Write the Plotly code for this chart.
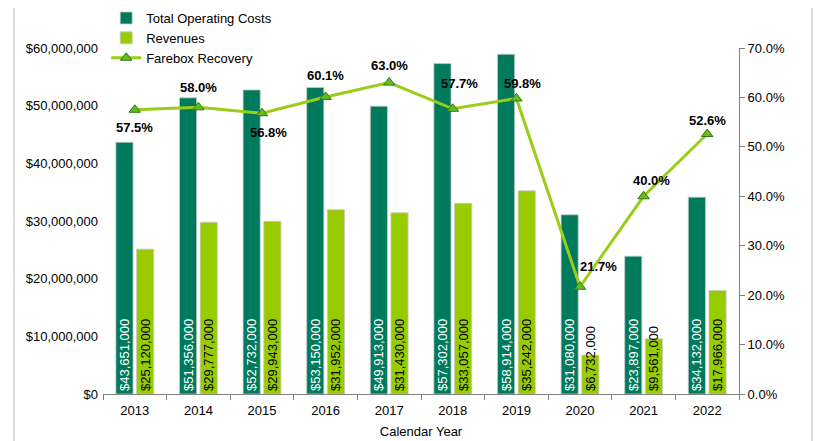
import plotly.graph_objects as go

years = ["2013", "2014", "2015", "2016", "2017", "2018", "2019", "2020", "2021", "2022"]
operating_costs = [43651000, 51356000, 52732000, 53150000, 49913000, 57302000, 58914000, 31080000, 23897000, 34132000]
revenues = [25120000, 29777000, 29943000, 31952000, 31430000, 33057000, 35242000, 6732000, 9561000, 17966000]
farebox = [0.575, 0.580, 0.568, 0.601, 0.630, 0.577, 0.598, 0.217, 0.400, 0.526]

# label placement offsets in pixels (style, not data)
label_dx = [0, 0, 6, 0, 0, 7, 6, 18, 8, 0]
label_dy = [-18, 20, -19, 21, 17, 25, 15, 20, 16, 14]

FONT = "Arial, Liberation Sans, sans-serif"
DARK = "#007A5C"
LIGHT = "#99CC00"

fig = go.Figure()
fig.add_trace(go.Bar(
    x=years, y=operating_costs, name="Total Operating Costs",
    marker=dict(color=DARK, line=dict(color="#C8C8C8", width=0.8)),
    text=[f"${v:,.0f}" for v in operating_costs],
    textposition="inside", insidetextanchor="start", textangle=-90,
    constraintext="none",
    insidetextfont=dict(color="white", size=13, family=FONT),
    hoverinfo="skip",
))
fig.add_trace(go.Bar(
    x=years, y=revenues, name="Revenues",
    marker=dict(color=LIGHT, line=dict(color="#C8C8C8", width=0.8)),
    text=[f"${v:,.0f}" for v in revenues],
    textposition="inside", insidetextanchor="start", textangle=-90,
    constraintext="none",
    insidetextfont=dict(color="black", size=13, family=FONT),
    hoverinfo="skip",
))
fig.add_trace(go.Scatter(
    x=years, y=farebox, name="Farebox Recovery", yaxis="y2",
    mode="lines+markers",
    line=dict(color="#9ACD1A", width=3),
    marker=dict(symbol="triangle-up", size=10, color="#66BB22",
                line=dict(color="#2E7A10", width=1)),
    hoverinfo="skip",
))

for i, (v, dx, dy) in enumerate(zip(farebox, label_dx, label_dy)):
    fig.add_annotation(
        x=i, y=v, xref="x", yref="y2", text=f"{v*100:.1f}%", showarrow=False,
        xshift=dx, yshift=dy,
        font=dict(family=FONT, size=13, color="black", weight="bold"),
    )

# outer frame
fig.add_shape(type="rect", xref="paper", yref="paper",
              x0=-0.14, x1=1.115, y0=-0.3, y1=1.118,
              line=dict(color="#D0D0D0", width=1.5), layer="below")

fig.update_layout(
    width=821, height=441,
    margin=dict(l=95, r=90, t=40, b=55, autoexpand=False),
    paper_bgcolor="white", plot_bgcolor="white",
    font=dict(family=FONT, size=13, color="black"),
    barmode="group", bargap=0.35, bargroupgap=0.17,
    showlegend=True,
    legend=dict(x=0.005, y=1.13, xanchor="left", yanchor="top",
                bgcolor="rgba(0,0,0,0)", font=dict(size=13),
                tracegroupgap=0, itemwidth=30),
    xaxis=dict(
        type="category", categoryorder="array", categoryarray=years,
        range=[-0.5, len(years) - 0.5], autorange=False,
        title=dict(text="Calendar Year", standoff=10, font=dict(size=13)),
        showline=True, linecolor="#808080", linewidth=1,
        ticks="outside", ticklen=5, tickcolor="#808080", tickson="boundaries",
        showgrid=False, tickfont=dict(size=13), tickangle=0, ticklabelstandoff=4,
    ),
    yaxis=dict(
        range=[0, 60000000], autorange=False,
        tickvals=[0, 10000000, 20000000, 30000000, 40000000, 50000000, 60000000],
        tickformat="$,.0f", showline=False, showgrid=False, zeroline=False,
        ticks="", ticklabelstandoff=4, tickfont=dict(size=13),
    ),
    yaxis2=dict(
        range=[0, 0.7], autorange=False, dtick=0.1, tickformat=".1%",
        overlaying="y", side="right",
        showline=True, linecolor="#808080", linewidth=1,
        ticks="outside", ticklen=5, tickcolor="#808080",
        showgrid=False, zeroline=False, tickfont=dict(size=13),
    ),
)

fig.write_html("out.html")
